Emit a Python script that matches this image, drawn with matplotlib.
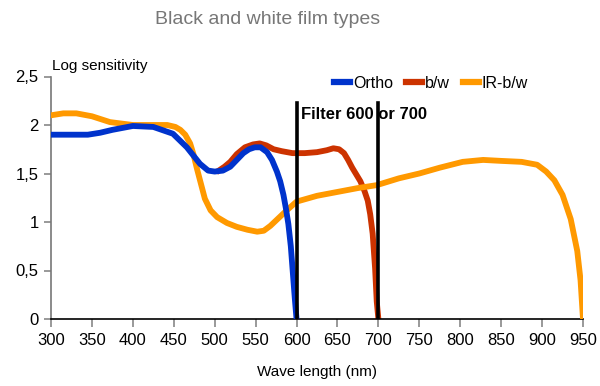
"""
Spectral sensitivity of black and white film types
"""

import matplotlib.pyplot as plt
from matplotlib.lines import Line2D

plt.rcParams['font.family'] = ['Liberation Sans', 'DejaVu Sans']

# ==================== DATA ====================
ortho_nm = [300, 325, 345, 360, 375, 400, 425, 449, 466, 482, 492, 500, 510, 519, 527,
            535, 542, 549, 556, 564, 570, 576, 580, 584, 587, 590, 593, 596, 598, 600]
ortho = [1.90, 1.90, 1.90, 1.92, 1.95, 1.99, 1.98, 1.91, 1.77, 1.60, 1.53, 1.52, 1.53, 1.57, 1.64,
         1.71, 1.75, 1.77, 1.77, 1.72, 1.64, 1.52, 1.42, 1.28, 1.14, 0.98, 0.75, 0.42, 0.20, 0.0]

bw_nm = [505, 512, 519, 527, 537, 547, 555, 563, 572, 582, 595, 610, 625, 637, 645, 652,
         658, 663, 668, 673, 678, 683, 687, 690, 693, 696, 698, 700]
bw = [1.53, 1.57, 1.62, 1.70, 1.77, 1.80, 1.81, 1.79, 1.75, 1.73, 1.71, 1.71, 1.72, 1.74, 1.76, 1.75,
      1.71, 1.64, 1.56, 1.49, 1.42, 1.32, 1.22, 1.08, 0.88, 0.52, 0.18, 0.0]

ir_nm = [300, 315, 331, 350, 372, 400, 421, 442, 452, 458, 464, 470, 474, 478, 483, 488,
         495, 503, 515, 527, 540, 552, 560, 568, 578, 588, 600, 625, 650, 675, 698, 725,
         750, 775, 803, 828, 850, 875, 894, 905, 915, 925, 935, 943, 947, 950]
ir_bw = [2.10, 2.12, 2.12, 2.09, 2.03, 2.00, 2.00, 2.00, 1.98, 1.95, 1.90, 1.81, 1.70, 1.56, 1.40, 1.24,
         1.12, 1.05, 0.99, 0.95, 0.92, 0.90, 0.91, 0.96, 1.04, 1.12, 1.21, 1.27, 1.31, 1.35, 1.38, 1.45,
         1.50, 1.56, 1.62, 1.64, 1.63, 1.62, 1.59, 1.52, 1.43, 1.28, 1.03, 0.70, 0.40, 0.0]

filter_nm = [600, 700]
filter_top = 2.23

x_ticks = list(range(300, 951, 50))
y_ticks = [0, 0.5, 1, 1.5, 2, 2.5]
y_tick_labels = ['0', '0,5', '1', '1,5', '2', '2,5']

series_names = ['Ortho', 'b/w', 'IR-b/w']
series_colors = ['#0033cc', '#cc3300', '#ff9900']

# ==================== PLOT ====================
fig = plt.figure(figsize=(6, 3.86), dpi=100)
ax = fig.add_axes([51 / 600, 1 - 319 / 386, 532 / 600, 242.5 / 386])

# b/w under IR-b/w, Ortho on top
ax.plot(bw_nm, bw, color=series_colors[1], linewidth=4.2, zorder=2, solid_joinstyle='round')
ax.plot(ir_nm, ir_bw, color=series_colors[2], linewidth=4.2, zorder=3, solid_joinstyle='round')
ax.plot(ortho_nm, ortho, color=series_colors[0], linewidth=4.2, zorder=4, solid_joinstyle='round')

for nm in filter_nm:
    ax.plot([nm, nm], [0, filter_top], color='black', linewidth=2.6, zorder=5)

ax.text(606, 2.11, 'Filter 600 or 700', fontsize=12, fontweight='bold',
        va='center', ha='left', zorder=6)

ax.set_xlim(300, 950)
ax.set_ylim(0, 2.5)
ax.set_xticks(x_ticks)
ax.set_yticks(y_ticks)
ax.set_yticklabels(y_tick_labels)
ax.tick_params(axis='both', labelsize=12, color='#888888', length=6, width=1.2, pad=4)
ax.tick_params(axis='y', length=5)

for side in ['top', 'right']:
    ax.spines[side].set_visible(False)
ax.spines['left'].set_color('#777777')
ax.spines['left'].set_linewidth(1.2)
ax.spines['bottom'].set_color('black')
ax.spines['bottom'].set_linewidth(1.2)

handles = [Line2D([0], [0], color=c, linewidth=4.5) for c in series_colors]
fig.legend(handles, series_names, loc='center left',
           bbox_to_anchor=(334 / 600, 1 - 83 / 386), bbox_transform=fig.transFigure,
           ncol=3, frameon=False, fontsize=11.5, handlelength=1.0,
           handletextpad=0.2, columnspacing=0.8, borderpad=0, borderaxespad=0)

fig.text(268 / 600, 1 - 20 / 386, 'Black and white film types', fontsize=14,
         color='#777777', ha='center', va='center')
fig.text(52 / 600, 1 - 66 / 386, 'Log sensitivity', fontsize=11, ha='left', va='center')
fig.text(317 / 600, 1 - 372 / 386, 'Wave length (nm)', fontsize=11, ha='center', va='center')

plt.savefig('out.png', dpi=100)
plt.close()
